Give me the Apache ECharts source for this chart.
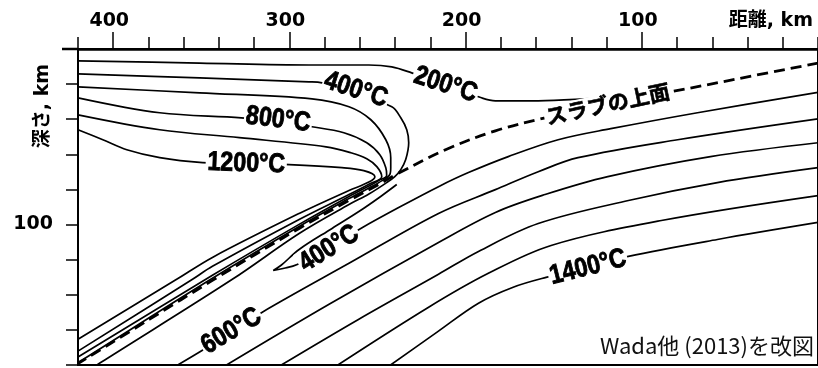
<!DOCTYPE html>
<html>
<head>
<meta charset="utf-8">
<script src="https://cdn.jsdelivr.net/npm/echarts@6/dist/echarts.min.js"></script>
<style>
  html, body { margin: 0; padding: 0; background: #fff; }
  #chart { width: 818px; height: 368px; }
</style>
</head>
<body>
<div id="chart"></div>
<script>
// 距離 (km), 深さ (km)
const xLabelValues = [100, 200, 300, 400];
const yLabelValues = [100];

// マントルウェッジ側の等温線
const iso200 = [[420, 6.8], [351.0, 8.0], [288.9, 9.1], [254.9, 9.1], [241.9, 10.2], [230.6, 13.6], [211.4, 20.4], [191.0, 27.8], [183.1, 29.5], [158.8, 29.5], [132.3, 28.4], [118.2, 27.3]];
const iso400w = [[420, 14.2], [351.0, 16.5], [288.9, 18.7], [281.5, 19.3], [261.7, 26.1], [241.9, 32.9], [236.8, 39.2], [233.4, 46.0], [232.3, 53.4], [234.0, 63.0], [236.8, 68.7], [240.2, 72.7], [244.8, 76.1], [254.9, 82.6], [266.2, 88.6], [294.5, 105.1], [332.4, 131.2], [407.6, 178.9], [410.5, 181]];
const iso600w = [[420, 21.6], [351.0, 25.0], [287.2, 28.4], [266.2, 32.9], [253.8, 40.3], [245.3, 51.7], [242.5, 61.9], [242.5, 67.6], [243.1, 71.6], [249.3, 76.1], [254.9, 79.2], [266.2, 85.2], [294.5, 101.1], [343.7, 130.6], [417.7, 177.2], [420, 178.6]];
const iso800w = [[420, 27.8], [373.6, 36.3], [327.3, 39.2], [306.9, 41.5], [287.2, 44.3], [269.1, 47.7], [256.1, 53.4], [248.7, 60.2], [245.3, 67.6], [244.8, 72.1], [249.3, 74.9], [254.9, 78.1], [266.2, 84.0], [294.5, 99.9], [343.7, 128.9], [420, 175.5]];
const iso1000w = [[420, 37.5], [373.6, 46.0], [328.4, 50.5], [279.2, 55.7], [265.1, 59.1], [256.1, 62.5], [250.4, 67.0], [247.6, 72.7], [254.9, 77.0], [266.2, 82.9], [294.5, 97.1], [343.7, 123.8], [355.0, 131.2], [420, 172.1]];
const iso1200w = [[420, 46.0], [405.9, 51.7], [392.3, 57.4], [373.6, 61.9], [349.3, 64.7], [324.5, 65.3], [300.2, 65.9], [270.2, 67.6], [257.8, 69.3], [251.5, 72.7], [254.9, 75.8], [266.2, 80.6], [294.5, 93.7], [343.7, 118.7], [364.0, 131.2], [420, 165.3]];

// スラブ側の等温線
const iso400s = [[0, 24.7], [68.4, 36.3], [117.6, 45.4], [147.5, 51.7], [175.8, 61.3], [198.4, 70.4], [215.4, 78.4], [238.0, 90.3], [259.5, 102.2], [277.5, 113.1], [295.6, 122.7], [303.0, 124.9], [309.2, 126.1], [304.7, 123.2], [294.5, 114.2], [275.8, 102.2], [260.6, 92.6], [248.2, 84.0], [239.1, 77.2]];
const iso600s = [[0, 39.8], [79.7, 51.7], [136.2, 61.9], [158.8, 69.9], [183.1, 80.1], [215.4, 93.7], [266.2, 122.1], [315.4, 149.9], [332.9, 161.3], [351.0, 172.6], [364.6, 180.7]];
const iso800s = [[0, 53.4], [61.0, 61.3], [119.3, 72.7], [154.9, 82.9], [183.1, 93.1], [215.4, 110.2], [277.5, 145.4], [336.9, 180.7]];
const iso1000s = [[0, 67.6], [57.1, 76.1], [107.6, 86.3], [158.8, 99.4], [192.7, 115.3], [215.4, 128.3], [260.6, 153.9], [305.8, 180.7]];
const iso1200s = [[0, 83.5], [88.9, 97.7], [151.5, 111.9], [187.1, 127.8], [221.0, 147.1], [273.6, 180.7]];
const iso1400s = [[0, 98.8], [57.1, 108.5], [107.6, 118.1], [130.6, 124.4], [154.3, 130.1], [173.0, 135.7], [192.7, 144.8], [215.4, 160.7], [243.6, 180.7]];

// スラブの上面 (破線)
const slabTop = [[0, 8.0], [45.8, 17.0], [83.6, 24.4], [119.3, 31.2], [154.9, 39.2], [183.1, 46.6], [211.4, 57.4], [239.7, 71.6], [249.3, 77.2], [266.2, 86.3], [294.5, 102.2], [343.7, 131.8], [379.3, 153.9], [420, 179.2]];

// 等温線ラベル
const labelText = ['200°C', '400°C', '800°C', '1200°C', '400°C', '600°C', '1400°C', 'スラブの上面'];
const labelPos = [[211.4, 20.4], [262.3, 23.3], [306.4, 40.3], [324.5, 65.3], [277.5, 113.7], [332.9, 160.7], [130.6, 124.4], [119.3, 31.2]];
const labelAngle = [-18, -18, -7, -2, 32, 31, 14, 12];

const isotherms = [iso200, iso400w, iso600w, iso800w, iso1000w, iso1200w, iso400s, iso600s, iso800s, iso1000s, iso1200s, iso1400s];

const chart = echarts.init(document.getElementById('chart'));

const lineSeries = (data, dashed) => ({
  type: 'line',
  data,
  smooth: 0.35,
  symbol: 'none',
  silent: true,
  clip: true,
  z: dashed ? 3 : 2,
  lineStyle: {
    color: '#000',
    width: dashed ? 2.8 : 1.7,
    type: dashed ? [11, 6] : 'solid',
  },
});

const boldFont = '"DejaVu Sans", "Noto Sans CJK JP", sans-serif';
const tickStyle = { color: '#000', width: 1.5 };
const isJa = (t) => /[\u3040-\u30ff\u4e00-\u9fff]/.test(t);

const option = {
  animation: false,
  backgroundColor: '#fff',
  grid: {
    left: 78,
    top: 49,
    width: 743,
    height: 316,
    show: true,
    borderColor: '#000',
    borderWidth: 2,
  },
  xAxis: [
    {
      type: 'value',
      position: 'top',
      min: 0,
      max: 420,
      interval: 20,
      inverse: true,
      axisLine: { show: true, onZero: false, lineStyle: { color: '#000', width: 2.5 } },
      axisTick: { show: true, length: 12, lineStyle: tickStyle },
      axisLabel: { show: false },
      splitLine: { show: false },
    },
    {
      type: 'value',
      position: 'top',
      min: 0,
      max: 420,
      inverse: true,
      axisLine: { show: false, onZero: false },
      axisTick: { show: true, length: 17, customValues: xLabelValues, lineStyle: tickStyle },
      axisLabel: {
        customValues: xLabelValues,
        margin: 18,
        color: '#000',
        fontFamily: boldFont,
        fontWeight: 'bold',
        fontSize: 19,
        padding: [0, 8, 0, 0],
      },
      splitLine: { show: false },
    },
  ],
  yAxis: {
    type: 'value',
    position: 'left',
    min: 0,
    max: 180,
    interval: 20,
    inverse: true,
    axisLine: { show: true, onZero: false, lineStyle: { color: '#000', width: 2 } },
    axisTick: { show: true, length: 12, lineStyle: tickStyle },
    axisLabel: {
      customValues: yLabelValues,
      margin: 25,
      color: '#000',
      fontFamily: boldFont,
      fontWeight: 'bold',
      fontSize: 19,
    },
    splitLine: { show: false },
  },
  graphic: [
    {
      type: 'line',
      shape: { x1: 62, y1: 49, x2: 78, y2: 49 },
      style: { stroke: '#000', lineWidth: 2.5 },
      silent: true,
    },
    {
      type: 'text',
      x: 813,
      y: 21,
      style: {
        text: '距離, km',
        fill: '#000',
        font: 'bold 19px ' + boldFont,
        align: 'right',
        verticalAlign: 'middle',
      },
      silent: true,
    },
    {
      type: 'text',
      x: 43,
      y: 106,
      rotation: Math.PI / 2,
      style: {
        text: '深さ, km',
        fill: '#000',
        font: 'bold 19px ' + boldFont,
        align: 'center',
        verticalAlign: 'middle',
      },
      silent: true,
    },
    {
      type: 'text',
      x: 814,
      y: 346,
      style: {
        text: 'Wada他 (2013)を改図',
        fill: '#111',
        font: '22px "Noto Sans CJK JP", "Noto Sans", sans-serif',
        align: 'right',
        verticalAlign: 'middle',
      },
      silent: true,
    },
  ],
  series: [
    ...isotherms.map((d) => lineSeries(d, false)),
    lineSeries(slabTop, true),
    {
      // 等温線ラベル (白抜き、縦長の太字)
      type: 'custom',
      coordinateSystem: 'cartesian2d',
      silent: true,
      z: 5,
      data: labelPos.map((p, i) => [p[0], p[1], i]),
      renderItem: (params, api) => {
        const i = api.value(2);
        const pt = api.coord([api.value(0), api.value(1)]);
        const t = labelText[i];
        const ja = isJa(t);
        return {
          type: 'text',
          x: pt[0],
          y: pt[1],
          rotation: labelAngle[i] * Math.PI / 180,
          scaleX: ja ? 1 : 0.86,
          style: {
            text: t,
            fill: '#000',
            stroke: '#000',
            lineWidth: ja ? 0.6 : 0.9,
            font: ja
              ? 'bold 21px "Noto Sans CJK JP", sans-serif'
              : 'bold 27px "Liberation Sans", Arial, sans-serif',
            align: 'center',
            verticalAlign: 'middle',
            backgroundColor: '#fff',
            padding: [0, 2],
          },
        };
      },
    },
  ],
};

chart.setOption(option);
</script>
</body>
</html>
